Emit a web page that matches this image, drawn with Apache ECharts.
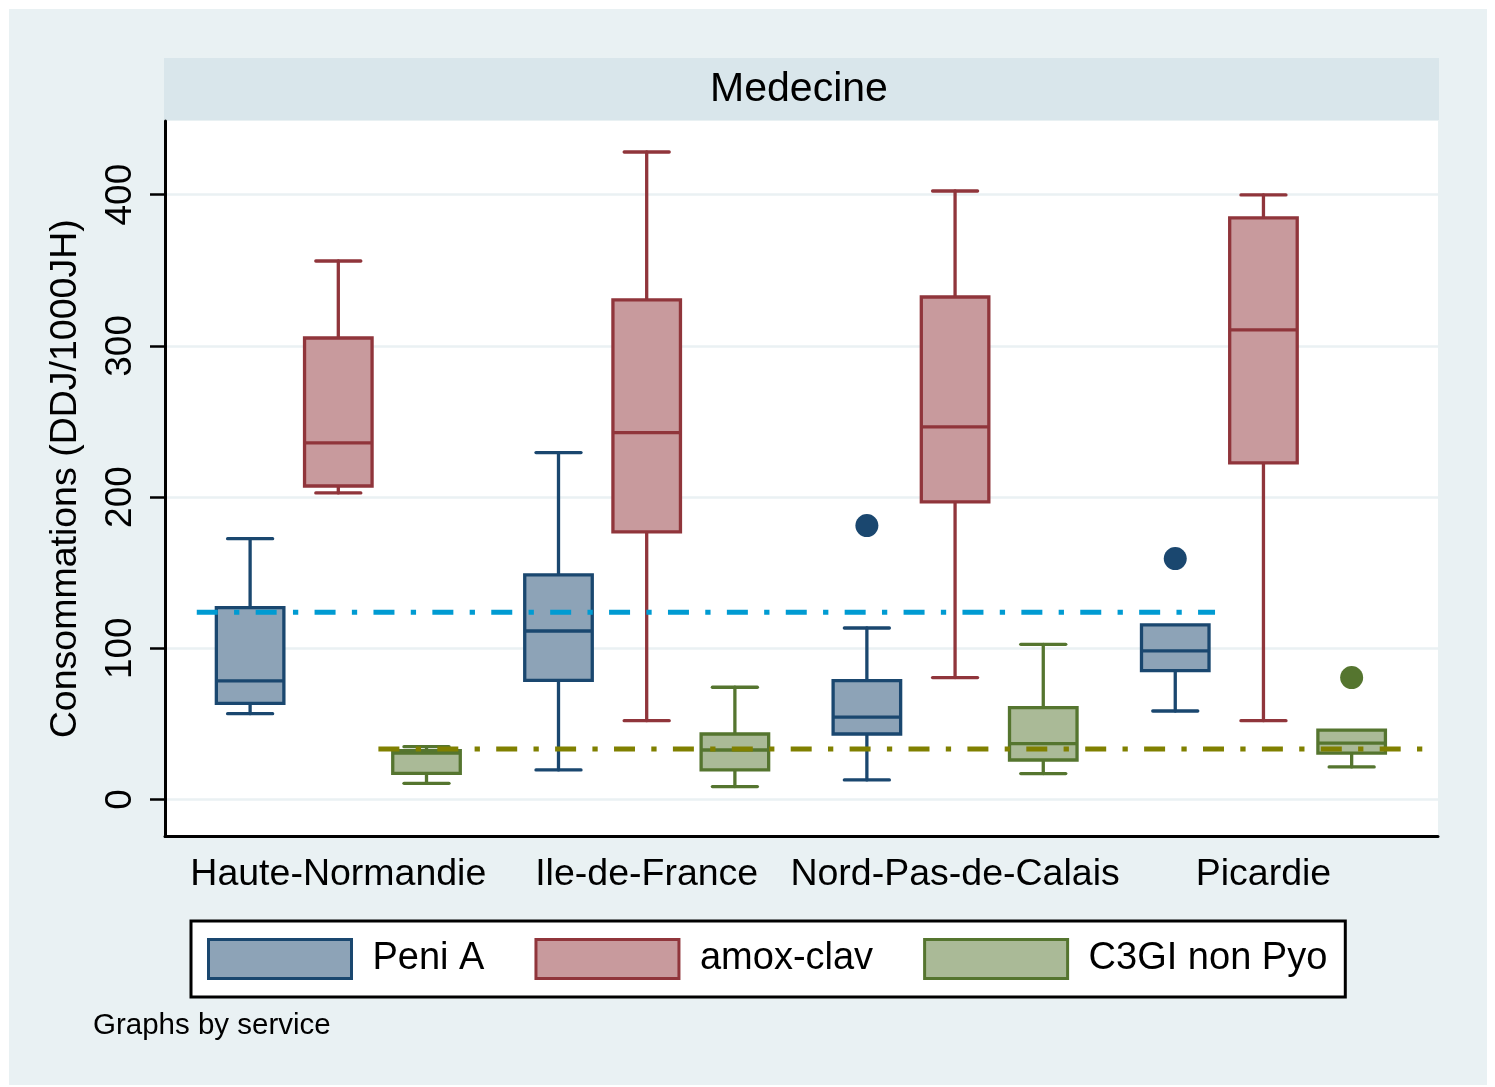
<!DOCTYPE html>
<html>
<head>
<meta charset="utf-8">
<script src="https://cdn.jsdelivr.net/npm/echarts@6/dist/echarts.min.js"></script>
<style>
  html, body { margin: 0; padding: 0; background: #ffffff; }
  #chart { width: 1495px; height: 1087px; }
</style>
</head>
<body>
<div id="chart"></div>
<script>
// ---------------- data ----------------
const regions = ['Haute-Normandie', 'Ile-de-France', 'Nord-Pas-de-Calais', 'Picardie'];
const seriesNames = ['Peni A', 'amox-clav', 'C3GI non Pyo'];
// [lower whisker, Q1, median, Q3, upper whisker] per region
const peniA = [
  [56.7, 63.6, 78.4, 126.9, 172.5],
  [19.5, 78.8, 111.4, 148.5, 229.4],
  [12.9, 43.3, 54.4, 78.6, 113.4],
  [58.5, 85.2, 98.2, 115.4, 115.4]
];
const amoxClav = [
  [202.7, 207.3, 235.8, 305.2, 356.1],
  [52.1, 176.9, 242.6, 330.4, 428.2],
  [80.6, 196.8, 246.4, 332.3, 402.4],
  [52.1, 222.6, 310.5, 384.6, 399.8]
];
const c3gi = [
  [10.7, 17.3, 30.6, 32.3, 34.9],
  [8.5, 19.5, 32.7, 43.3, 74.2],
  [17.1, 26.1, 36.9, 60.7, 102.6],
  [21.5, 30.6, 37.2, 45.8, 45.8]
];
// outliers: [region index, value]
const peniAOutliers = [[2, 181.1], [3, 159.3]];
const amoxOutliers = [];
const c3giOutliers = [[3, 80.6]];
// reference lines: value and extent in region units
const refPeniA = { value: 123.8, from: -0.459, to: 2.843 };
const refC3gi = { value: 33.4, from: 0.130, to: 3.562 };
const yTicks = [0, 100, 200, 300, 400];

// ---------------- styles ----------------
const COLORS = [
  { fill: '#8da3b7', stroke: '#1a476f' },
  { fill: '#c89a9d', stroke: '#90353b' },
  { fill: '#aaba97', stroke: '#55752f' }
];
const SLOT = [-1, 0, 1];
const BOX_OFFSET = 0.286;
const BOX_W = 0.219;
const CAP_W = 0.146;
const LW = 3.3;
const FONT = '"Liberation Sans", Arial, sans-serif';

function boxRenderer(slot, col) {
  return function (params, api) {
    const ci = api.value(0);
    const unit = api.size([1, 0])[0];
    const cx = api.coord([ci, 0])[0] + slot * BOX_OFFSET * unit;
    const yv = i => api.coord([ci, api.value(i)])[1];
    const yLow = yv(1), yQ1 = yv(2), yMed = yv(3), yQ3 = yv(4), yHigh = yv(5);
    const hw = BOX_W * unit / 2, cw = CAP_W * unit / 2;
    const ls = { stroke: col.stroke, lineWidth: LW, lineCap: 'round' };
    const children = [];
    if (api.value(5) > api.value(4)) {
      children.push({ type: 'line', shape: { x1: cx, y1: yQ3, x2: cx, y2: yHigh }, style: ls });
      children.push({ type: 'line', shape: { x1: cx - cw, y1: yHigh, x2: cx + cw, y2: yHigh }, style: ls });
    }
    if (api.value(1) < api.value(2)) {
      children.push({ type: 'line', shape: { x1: cx, y1: yQ1, x2: cx, y2: yLow }, style: ls });
      children.push({ type: 'line', shape: { x1: cx - cw, y1: yLow, x2: cx + cw, y2: yLow }, style: ls });
    }
    children.push({ type: 'rect', shape: { x: cx - hw, y: yQ3, width: 2 * hw, height: yQ1 - yQ3 },
      style: { fill: col.fill, stroke: col.stroke, lineWidth: LW } });
    children.push({ type: 'line', shape: { x1: cx - hw, y1: yMed, x2: cx + hw, y2: yMed },
      style: { stroke: col.stroke, lineWidth: LW } });
    return { type: 'group', children };
  };
}
function outlierRenderer(slot, col) {
  return function (params, api) {
    const ci = api.value(0);
    const unit = api.size([1, 0])[0];
    const p = api.coord([ci, api.value(1)]);
    return { type: 'circle', shape: { cx: p[0] + slot * BOX_OFFSET * unit, cy: p[1], r: 11.5 },
      style: { fill: col.stroke } };
  };
}

const boxData = [peniA, amoxClav, c3gi];
const outData = [peniAOutliers, amoxOutliers, c3giOutliers];
const series = [];
boxData.forEach((arr, k) => {
  series.push({
    name: seriesNames[k], type: 'custom', z: 2,
    itemStyle: { color: COLORS[k].fill, borderColor: COLORS[k].stroke, borderWidth: 3 },
    renderItem: boxRenderer(SLOT[k], COLORS[k]),
    encode: { x: 0, y: [1, 2, 3, 4, 5] },
    data: arr.map((d, i) => [i].concat(d))
  });
});
outData.forEach((arr, k) => {
  if (!arr.length) return;
  series.push({
    name: seriesNames[k] + ' outliers', type: 'custom', z: 2,
    renderItem: outlierRenderer(SLOT[k], COLORS[k]),
    encode: { x: 0, y: 1 },
    data: arr
  });
});
const DASH = [21, 16.3, 5.3, 16.3];
[[refPeniA, '#009bd2'], [refC3gi, '#808000']].forEach(([r, c]) => {
  series.push({
    type: 'line', z: 5, symbol: 'none', silent: true,
    lineStyle: { color: c, width: 5, type: DASH, cap: 'butt' },
    data: [[r.from, r.value], [r.to, r.value]]
  });
});

const option = {
  backgroundColor: '#ffffff',
  animation: false,
  textStyle: { fontFamily: FONT },
  graphic: [
    { type: 'rect', z: -10, shape: { x: 9, y: 9, width: 1478, height: 1076 }, style: { fill: '#e9f1f3' } },
    { type: 'rect', z: -5, shape: { x: 164, y: 58, width: 1275, height: 62 }, style: { fill: '#d9e6eb' } },
    { type: 'text', z: 10, x: 799, y: 90, style: { text: 'Medecine', fontSize: 41, fontFamily: FONT,
      fill: '#000', textAlign: 'center', textVerticalAlign: 'middle' } },
    { type: 'text', z: 10, x: 93, y: 1026, style: { text: 'Graphs by service', fontSize: 29.5, fontFamily: FONT,
      fill: '#000', textAlign: 'left', textVerticalAlign: 'middle' } }
  ],
  grid: {
    left: 165, right: 57, top: 121, bottom: 250.5,
    show: true, backgroundColor: '#ffffff', borderWidth: 0
  },
  xAxis: {
    type: 'value', min: -0.562, max: 3.566,
    axisLine: { show: true, onZero: false, lineStyle: { color: '#000', width: 3 } },
    axisTick: { show: false },
    splitLine: { show: false },
    axisLabel: {
      customValues: [0, 1, 2, 3],
      formatter: v => regions[Math.round(v)],
      fontSize: 37.5, color: '#000', margin: 19, fontFamily: FONT
    }
  },
  yAxis: {
    type: 'value', min: -24.5, max: 448.7,
    name: 'Consommations (DDJ/1000JH)', nameLocation: 'middle', nameRotate: 90, nameGap: 80,
    nameTextStyle: { fontSize: 37.5, color: '#000', fontFamily: FONT },
    axisLine: { show: true, onZero: false, lineStyle: { color: '#000', width: 3 } },
    axisTick: { show: true, customValues: yTicks, length: 15, lineStyle: { color: '#000', width: 2.5 } },
    axisLabel: { customValues: yTicks, rotate: 90, fontSize: 37, color: '#000', margin: 26, fontFamily: FONT },
    splitLine: { show: true, lineStyle: { color: '#eaf1f3', width: 2.5 } }
  },
  legend: {
    left: 191, top: 921,
    orient: 'horizontal',
    padding: [17, 18, 17, 16],
    borderColor: '#000', borderWidth: 3, backgroundColor: '#ffffff',
    itemWidth: 143, itemHeight: 39, itemGap: 50,
    icon: 'rect',
    textStyle: { fontSize: 38, color: '#000', fontFamily: FONT, padding: [0, 0, 0, 16] },
    data: seriesNames.map((n, k) => ({
      name: n, icon: 'rect',
      itemStyle: { color: COLORS[k].fill, borderColor: COLORS[k].stroke, borderWidth: 3 }
    })),
    selectedMode: false
  },
  series
};
const chart = echarts.init(document.getElementById('chart'), null, { renderer: 'canvas' });
chart.setOption(option);
</script>
</body>
</html>
